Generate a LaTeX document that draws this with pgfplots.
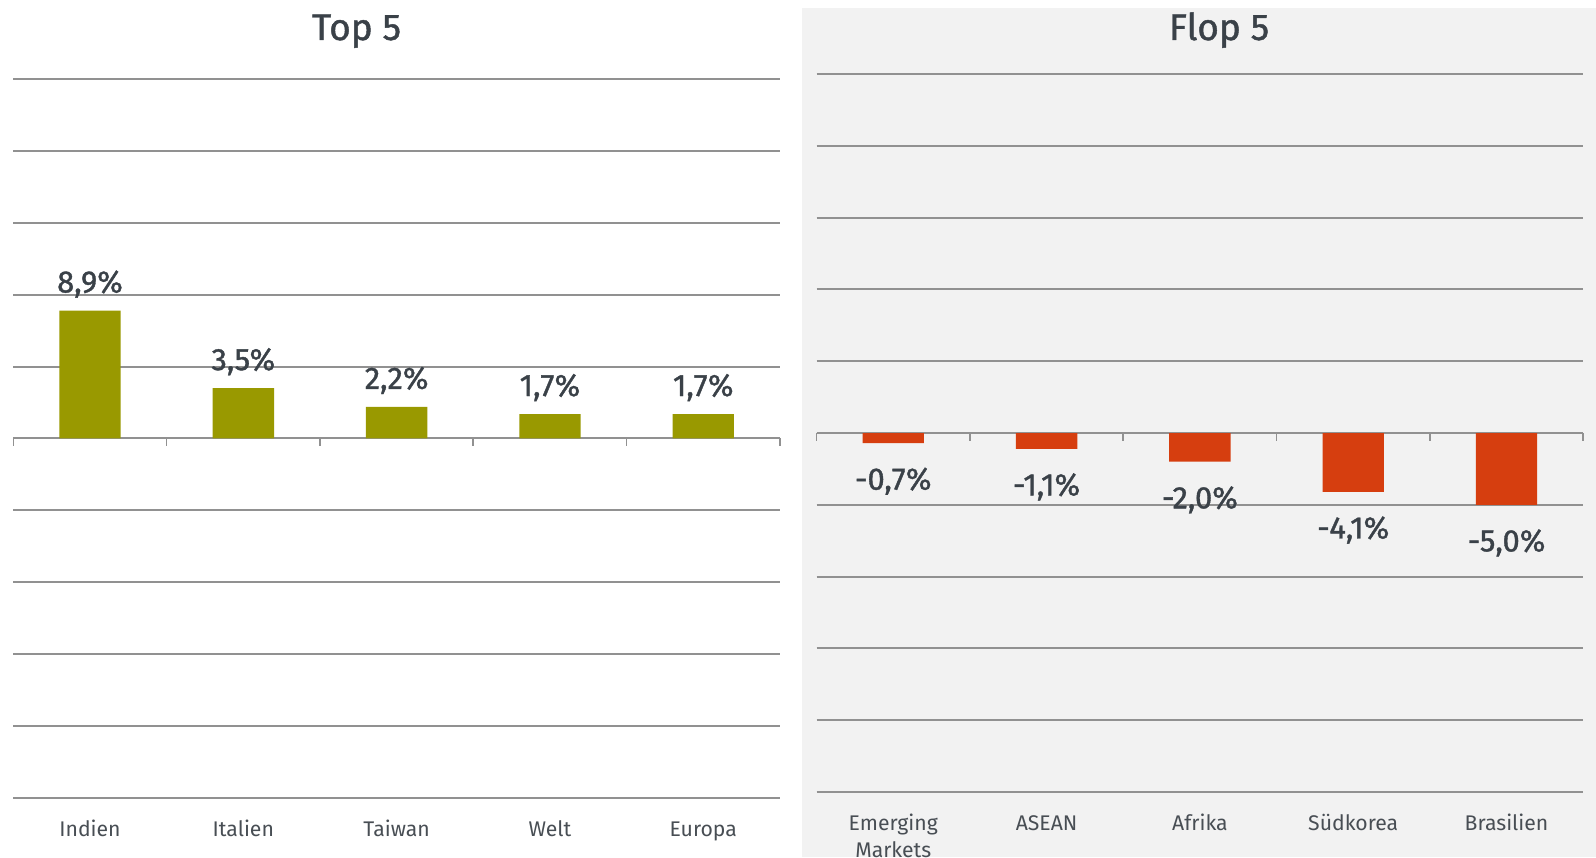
\documentclass[border=0pt]{standalone}
\usepackage{pgfplots}
\pgfplotsset{compat=1.18}
\usepackage{fontspec}
\setmainfont{Fira Sans}
\newfontfamily\medfont[FakeBold=1.2]{Fira Sans}
\definecolor{txt}{RGB}{58,65,72}
\definecolor{tickc}{RGB}{72,78,84}
\definecolor{gridc}{RGB}{145,145,145}
\definecolor{oliveb}{RGB}{153,153,0}
\definecolor{redb}{RGB}{214,62,15}
\definecolor{panel}{RGB}{242,242,242}
\newcommand{\hp}{\vphantom{dÄ}}
\pgfplotsset{mybar/.style={
  scale only axis, width=383.3pt, height=359.5pt,
  xmin=-0.5, xmax=4.5, ymin=-25, ymax=25,
  ytick={-25,-20,...,25}, yticklabels={},
  ymajorgrids, grid style={gridc, line width=1pt},
  axis line style={draw=none},
  major tick length=0pt,
  xtick={0,...,4},
  xticklabel style={font=\fontsize{10.6}{13.5}\selectfont, text=tickc, align=center, anchor=north, yshift=-6pt},
  ybar, bar width=30.7pt,
  nodes near coords,
  point meta=explicit symbolic,
  clip=false,
}}
\begin{document}
\begin{tikzpicture}
\fill[white] (0,0) rectangle (798pt,428.5pt);
\fill[panel] (400.8pt,0) rectangle (798pt,424.5pt);
\begin{axis}[mybar, at={(6.67pt,29.5pt)}, anchor=south west,
  xticklabels={\hp Indien,\hp Italien,\hp Taiwan,\hp Welt,\hp Europa},
  nodes near coords style={font=\medfont\fontsize{15.5}{18}\selectfont, text=txt, anchor=base, yshift=9pt}]
\addplot[fill=oliveb, draw=none] coordinates {(0,8.9) [8,9\%] (1,3.5) [3,5\%] (2,2.2) [2,2\%] (3,1.7) [1,7\%] (4,1.7) [1,7\%]};
\pgfplotsinvokeforeach{-0.5,0.5,1.5,2.5,3.5,4.5}{\draw[gridc, line width=0.8pt] (axis cs:#1,0) -- (axis cs:#1,-0.55);}
\end{axis}
\begin{axis}[mybar, at={(408.3pt,32.5pt)}, anchor=south west, height=359pt,
  xticklabels={\hp Emerging\\Markets,\hp ASEAN,\hp Afrika,\hp Südkorea,\hp Brasilien},
  nodes near coords style={font=\medfont\fontsize{15.5}{18}\selectfont, text=txt, anchor=base, yshift=-23.3pt}]
\addplot[fill=redb, draw=none] coordinates {(0,-0.7) [-0,7\%] (1,-1.1) [-1,1\%] (2,-2.0) [-2,0\%] (3,-4.1) [-4,1\%] (4,-5.0) [-5,0\%]};
\pgfplotsinvokeforeach{-0.5,0.5,1.5,2.5,3.5,4.5}{\draw[gridc, line width=0.8pt] (axis cs:#1,0) -- (axis cs:#1,-0.55);}
\end{axis}
\node[font=\medfont\fontsize{18.5}{22}\selectfont, text=txt, anchor=base] at (178.3pt,408.5pt) {Top 5};
\node[font=\medfont\fontsize{18.5}{22}\selectfont, text=txt, anchor=base] at (609.5pt,408.5pt) {Flop 5};
\pgfresetboundingbox
\path[use as bounding box] (0,0) rectangle (798pt,428.5pt);
\end{tikzpicture}
\end{document}
